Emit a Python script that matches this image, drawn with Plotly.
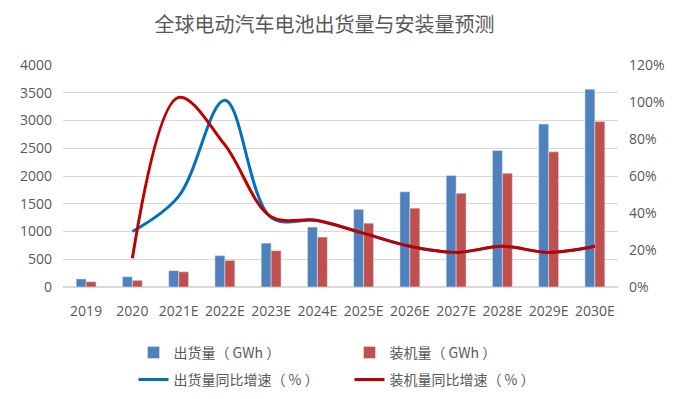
import plotly.graph_objects as go

categories = ["2019", "2020", "2021E", "2022E", "2023E", "2024E", "2025E",
              "2026E", "2027E", "2028E", "2029E", "2030E"]
shipment_gwh = [145, 185, 295, 565, 790, 1080, 1400, 1715, 2010, 2460, 2935, 3565]
installed_gwh = [95, 120, 275, 480, 655, 900, 1150, 1420, 1690, 2050, 2435, 2980]
line_cats = categories[1:]
shipment_growth = [0.30, 0.49, 1.01, 0.375, 0.36, 0.29, 0.22, 0.187, 0.22, 0.187, 0.22]
installed_growth = [0.156, 1.025, 0.768, 0.38, 0.36, 0.29, 0.22, 0.187, 0.22, 0.187, 0.22]

title = "全球电动汽车电池出货量与安装量预测"
names = ["出货量（ GWh ）", "装机量（ GWh ）", "出货量同比增速（ % ）", "装机量同比增速（ % ）"]

FONT = "Open Sans, Noto Sans CJK SC, sans-serif"
GREY = "#595959"

fig = go.Figure()
fig.add_trace(go.Bar(x=categories, y=shipment_gwh, name=names[0], marker_color="#4F81BD",
                     legend="legend"))
fig.add_trace(go.Bar(x=categories, y=installed_gwh, name=names[1], marker_color="#C0504D",
                     legend="legend"))
fig.add_trace(go.Scatter(x=line_cats, y=shipment_growth, name=names[2], yaxis="y2", mode="lines",
                         line=dict(color="#0070C0", width=3, shape="spline", smoothing=1.0),
                         legend="legend2"))
fig.add_trace(go.Scatter(x=line_cats, y=installed_growth, name=names[3], yaxis="y2", mode="lines",
                         line=dict(color="#C00000", width=3, shape="spline", smoothing=1.0),
                         legend="legend2"))

legend_common = dict(orientation="h", x=0.127, xanchor="left", yanchor="middle",
                     yref="container",
                     entrywidth=171, entrywidthmode="pixels", traceorder="normal",
                     font=dict(family="Noto Sans CJK SC", size=14, color=GREY),
                     bgcolor="rgba(0,0,0,0)")

fig.update_layout(
    width=669, height=391,
    margin=dict(l=47, r=59, t=57, b=112),
    paper_bgcolor="white", plot_bgcolor="white",
    font=dict(family=FONT, size=14, color=GREY),
    title=dict(text=title, x=0.473, xanchor="center", y=0.957, yanchor="middle",
               font=dict(family="Noto Sans CJK SC", size=20, color=GREY)),
    barmode="group", bargap=0.57, bargroupgap=0,
    xaxis=dict(type="category", showgrid=False, showline=False, ticks="",
               ticklabelstandoff=14, tickfont=dict(size=14, color=GREY),
               range=[-0.5, 11.5]),
    yaxis=dict(range=[0, 4000], dtick=500, showgrid=True, gridcolor="#D9D9D9", gridwidth=1,
               zeroline=True, zerolinecolor="#D9D9D9", ticks="", ticklabelstandoff=10,
               tickfont=dict(size=14, color=GREY)),
    yaxis2=dict(range=[0, 1.2], dtick=0.2, tickformat=".0%", overlaying="y", side="right",
                showgrid=False, zeroline=False, ticks="", ticklabelstandoff=10,
                tickfont=dict(size=14, color=GREY)),
    showlegend=True,
    legend=dict(legend_common, y=0.118),
    legend2=dict(legend_common, y=0.049),
)

fig.write_html("out.html")
